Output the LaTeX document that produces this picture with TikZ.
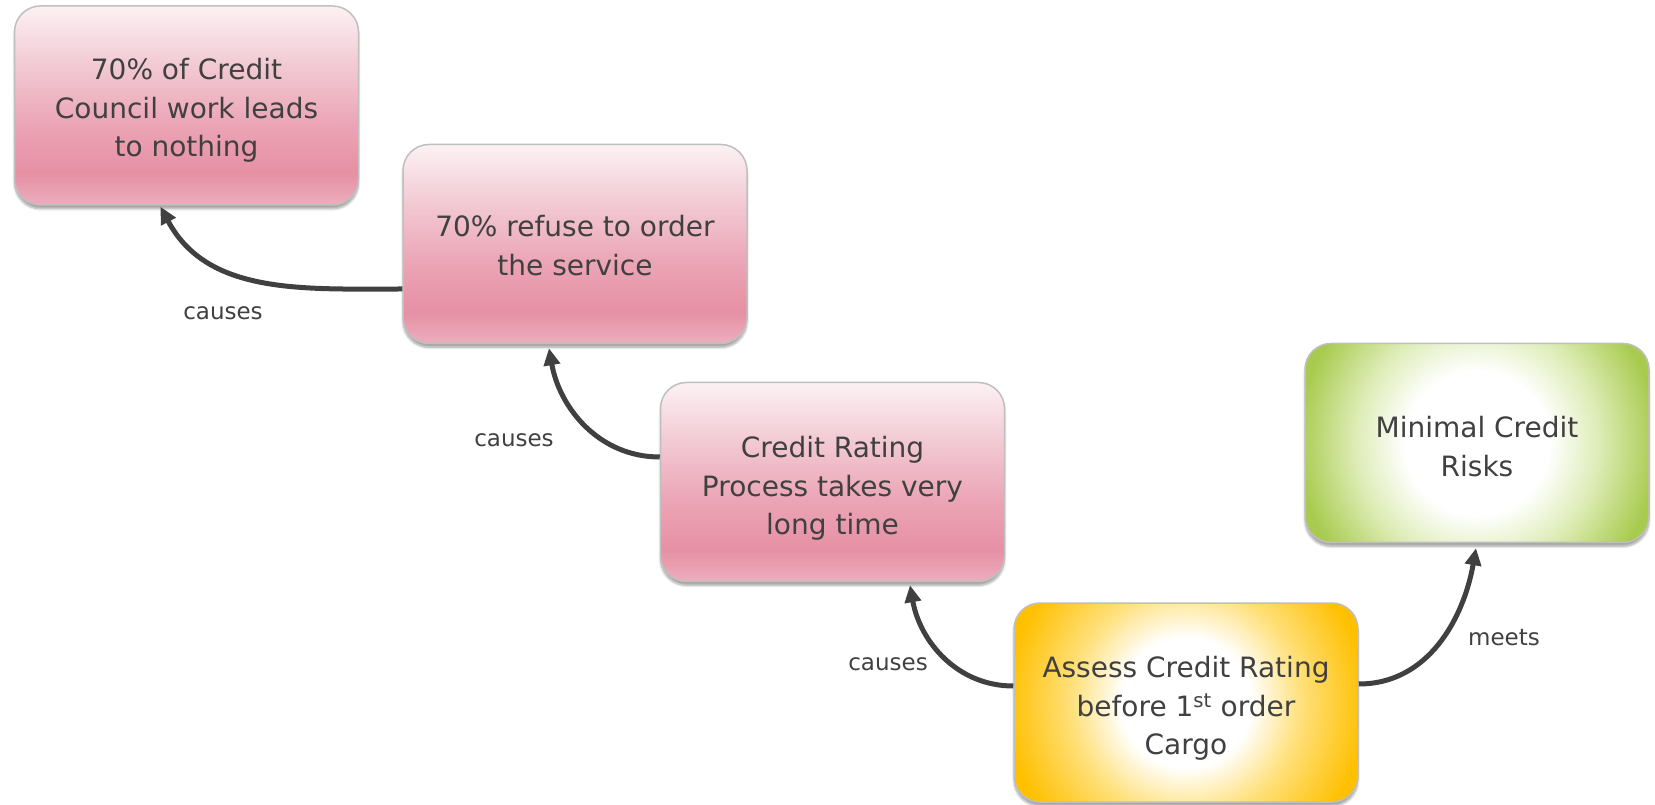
\documentclass[tikz,border=0pt]{standalone}
\usepackage{fontspec}
\setmainfont{DejaVu Sans}
\usetikzlibrary{arrows.meta,shadows.blur,calc}
\definecolor{txt}{HTML}{404040}
\definecolor{bord}{HTML}{BFBFBF}
\definecolor{arr}{HTML}{404040}
\definecolor{pkbot}{HTML}{ECAEBD}
\definecolor{pkdeep}{HTML}{E690A4}
\definecolor{pkmid}{HTML}{EBA4B5}
\definecolor{pklight}{HTML}{F2C9D3}
\definecolor{pktop}{HTML}{FCF1F4}
\definecolor{yelout}{HTML}{FFC000}
\definecolor{yelmid}{HTML}{FFE07A}
\definecolor{grnout}{HTML}{A8CB4F}
\definecolor{grnmid}{HTML}{DDECB5}
\pgfdeclareverticalshading{pinkshade}{100bp}{color(0bp)=(pkbot); color(25bp)=(pkbot); color(33bp)=(pkdeep); color(45bp)=(pkmid); color(60bp)=(pklight); color(75bp)=(pktop); color(100bp)=(pktop)}
\pgfdeclareradialshading{yelrad}{\pgfpoint{0bp}{0bp}}{color(0bp)=(white); color(9bp)=(white); color(16bp)=(yelmid); color(25bp)=(yelout); color(50bp)=(yelout)}
\pgfdeclareradialshading{grnrad}{\pgfpoint{0bp}{0bp}}{color(0bp)=(white); color(10bp)=(white); color(17bp)=(grnmid); color(25bp)=(grnout); color(50bp)=(grnout)}
\newcommand\boxtxt[2][5pt]{\raisebox{-#1}[\height][\depth]{\begin{tabular}{@{}c@{}}#2\end{tabular}}}
\begin{document}
\begin{tikzpicture}[x=1pt,y=1pt,
  box/.style={rounded corners=26pt, draw=bord, line width=1.5pt,
    minimum width=344pt, minimum height=199pt, inner sep=0pt,
    text=txt, font=\fontsize{28}{38.5}\selectfont,
    blur shadow={shadow xshift=0pt, shadow yshift=-4pt, shadow blur steps=6, shadow opacity=35}},
  pinkbox/.style={box, shade, shading=pinkshade},
  yelbox/.style={box, fill=yelout, path picture={\shade[shading=yelrad] (path picture bounding box.center) circle (180pt);}},
  grnbox/.style={box, fill=grnout, path picture={\shade[shading=grnrad] (path picture bounding box.center) circle (180pt);}},
  conn/.style={draw=arr, line width=5pt, -{Triangle[length=17pt,width=16pt]}},
  lab/.style={text=txt, font=\fontsize{23}{27}\selectfont, inner sep=0pt}
]
\useasboundingbox (0,0) rectangle (1655,804);
\node[pinkbox] (b1) at (186.5,698.5) {\boxtxt[5pt]{70\% of Credit\\Council work leads\\to nothing}};
\node[pinkbox] (b2) at (575,560) {\boxtxt[4.5pt]{70\% refuse to order\\the service}};
\node[pinkbox] (b3) at (832.5,322) {\boxtxt[6.5pt]{Credit Rating\\Process takes very\\long time}};
\node[yelbox] (b4) at (1186,101.5) {\boxtxt[6pt]{Assess Credit Rating\\before 1\textsuperscript{st} order\\Cargo}};
\node[grnbox] (b5) at (1477,361) {\boxtxt[6.5pt]{Minimal Credit\\Risks}};
\draw[conn] ($(b2.west)+(0,-45)$) to[out=180,in=-62] ($(b1.south)+(-26,-1)$);
\draw[conn] ($(b3.west)+(0,25)$) to[out=180,in=-80] ($(b2.south)+(-26,-4)$);
\draw[conn] ($(b4.west)+(0,16.5)$) to[out=180,in=-80] ($(b3.south)+(77.5,-3)$);
\draw[conn] ($(b4.east)+(0,18.5)$) to[out=0,in=-100] ($(b5.south)+(-1,-5)$);
\node[lab] (l1) at (223,490.5) {causes};
\node[lab] (l2) at (514,364) {causes};
\node[lab] (l3) at (888,140) {causes};
\node[lab] (l4) at (1504,166.5) {meets};
\end{tikzpicture}
\end{document}
